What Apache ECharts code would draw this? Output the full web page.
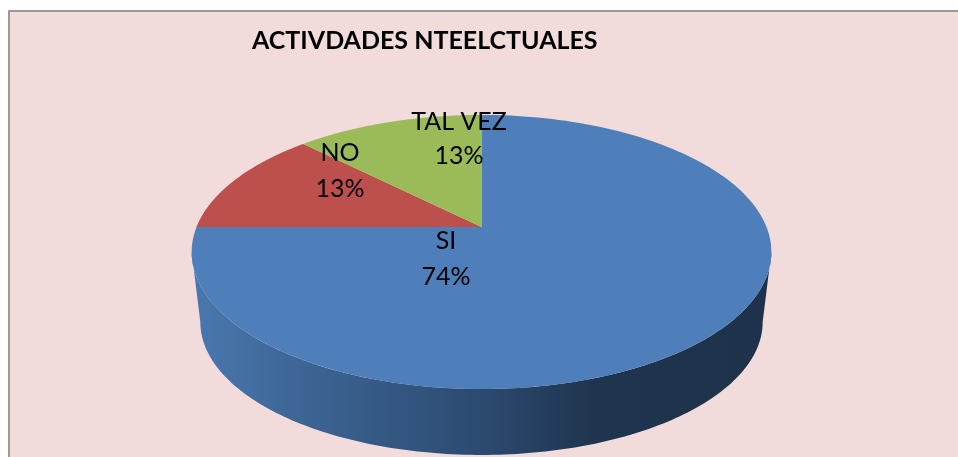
<!DOCTYPE html>
<html>
<head>
<meta charset="utf-8">
<style>html,body{margin:0;padding:0;background:#fff}#chart{width:958px;height:457px}</style>
<script src="https://cdn.jsdelivr.net/npm/echarts@6/dist/echarts.min.js"></script>
</head>
<body>
<div id="chart"></div>
<script>
// Data
const chartTitle = 'ACTIVDADES NTEELCTUALES';
const categories = ['SI', 'NO', 'TAL VEZ'];
const seriesValues = [74.4, 12.8, 12.8];

// Styling and layout (separate from the data)
const sliceColors = ['#4e7fbb', '#bd4f4c', '#9bbb59'];
const labelCenters = [[446, 241, 277], [340, 153, 189], [459, 122, 156]];
const FONT = 'Lato, "Open Sans", sans-serif';
const apex = { x: 481.5, y: 227 };
const proj = { sx: 285, sy: 132.5, k: -0.1824, skew: 3 };
const wall = { cy0: 252, cy1: 322, scale: 0.97 };
const total = seriesValues.reduce((a, b) => a + b, 0);

// Small angular skew of the 3D view, zero at 12 o'clock
function viewAngle(deg) {
  return deg + proj.skew * Math.sin(deg * Math.PI / 360);
}
// Perspective projection of a view angle (degrees clockwise from 12 o'clock) to the tilted disc
function topPoint(deg) {
  const t = deg * Math.PI / 180;
  const x = Math.sin(t), y = -Math.cos(t);
  const w = 1 + proj.k * y;
  return [apex.x + proj.sx * x / w, apex.y + proj.sy * y / w];
}
function basePoint(deg) {
  const p = topPoint(deg);
  return [apex.x + (p[0] - apex.x) * wall.scale, wall.cy1 + (p[1] - wall.cy0) * wall.scale];
}
const FRONT_FROM = 100.5, FRONT_TO = 259.5;

function renderSlice(params, api) {
  const i = params.dataIndex;
  let cum = 0;
  for (let j = 0; j < i; j++) cum += seriesValues[j] / total * 360;
  const start = viewAngle(cum);
  const end = viewAngle(cum + api.value(0) / total * 360);

  const children = [];
  // side wall: only the part of the slice that faces the viewer
  const a = Math.max(start, FRONT_FROM), b = Math.min(end, FRONT_TO);
  if (b > a) {
    const upper = [], lower = [];
    for (let d = a; d <= b + 1e-6; d += (b - a) / 160) {
      upper.push(topPoint(d));
      lower.unshift(basePoint(d));
    }
    children.push({
      type: 'polygon',
      shape: { points: upper.concat(lower) },
      style: {
        fill: new echarts.graphic.LinearGradient(192, 0, 771, 0, [
          { offset: 0, color: '#4a78ae' },
          { offset: 0.2, color: '#3c6493' },
          { offset: 0.5, color: '#2c4a70' },
          { offset: 0.7, color: '#1f344e' },
          { offset: 1, color: '#1e324b' }
        ], true)
      }
    });
  }
  // top face
  const pts = [[apex.x, apex.y]];
  for (let d = start; d <= end + 1e-6; d += (end - start) / 160) pts.push(topPoint(d));
  children.push({ type: 'polygon', shape: { points: pts }, style: { fill: sliceColors[i] } });
  return { type: 'group', children: children };
}

function renderLabel(params, api) {
  const i = params.dataIndex;
  const c = labelCenters[i];
  const pct = Math.round(api.value(0) / total * 100) + '%';
  const mk = (text, y) => ({
    type: 'text',
    style: { x: c[0], y: y, text: text, fill: '#000', font: '25px ' + FONT, align: 'center', verticalAlign: 'middle' }
  });
  return { type: 'group', children: [mk(categories[i], c[1]), mk(pct, c[2])] };
}

const chart = echarts.init(document.getElementById('chart'), null, { renderer: 'canvas' });
const seriesData = seriesValues.map((v, i) => ({ name: categories[i], value: [v] }));
chart.setOption({
  animation: false,
  backgroundColor: '#ffffff',
  title: {
    text: chartTitle, left: 247, top: 23,
    textStyle: { fontFamily: FONT, fontWeight: 'bold', fontSize: 25, color: '#000' }
  },
  graphic: [{
    type: 'rect', z: -10,
    shape: { x: 9, y: 11, width: 970, height: 470 },
    style: { fill: '#f1dcdb', stroke: '#999999', lineWidth: 2 }
  }],
  series: [
    { type: 'custom', name: 'pie', coordinateSystem: 'none', renderItem: renderSlice, data: seriesData, z: 2 },
    { type: 'custom', name: 'labels', coordinateSystem: 'none', renderItem: renderLabel, data: seriesData, z: 3 }
  ]
});
</script>
</body>
</html>
